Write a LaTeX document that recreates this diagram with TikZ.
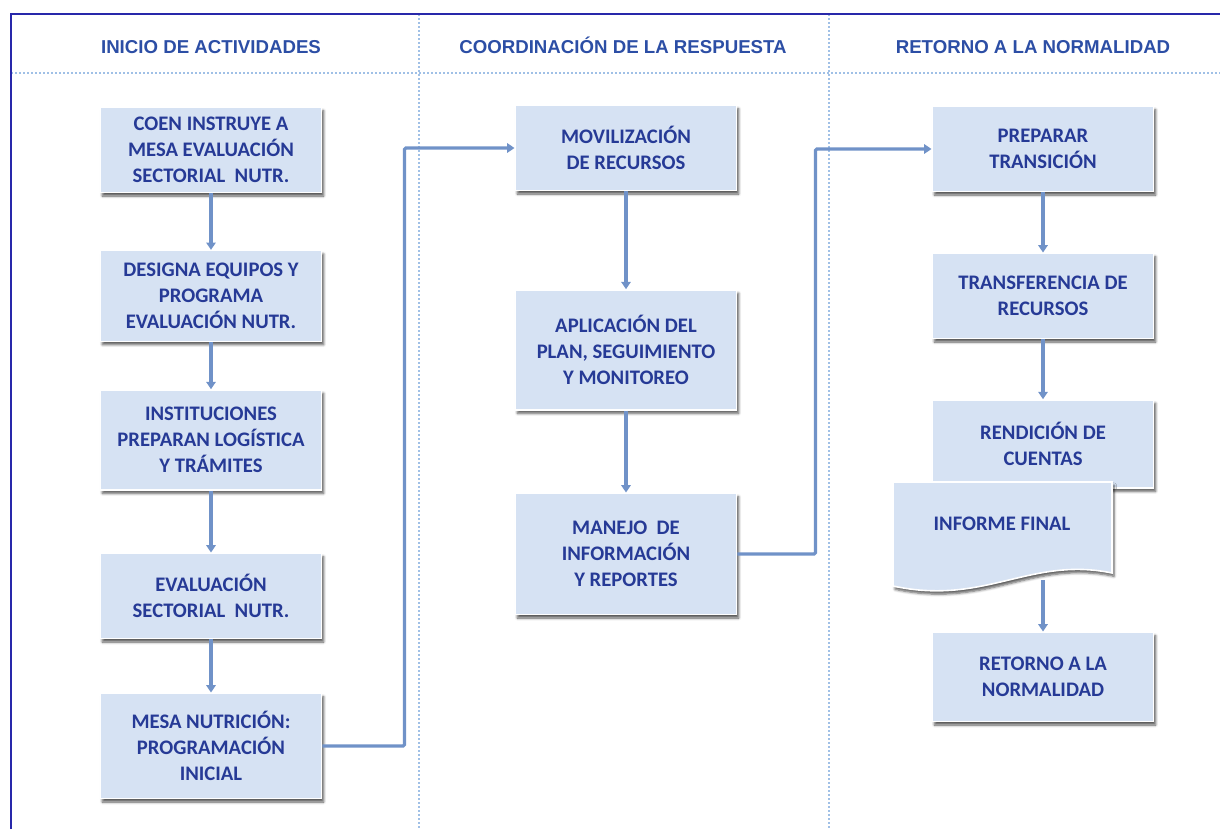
\documentclass[tikz,border=0pt]{standalone}
\usepackage{fontspec}
\setmainfont{Carlito}
\newfontfamily\titulofont{Liberation Sans}
\usetikzlibrary{arrows.meta,shadows.blur}
\definecolor{cajafondo}{RGB}{214,226,243}
\definecolor{textoazul}{RGB}{38,58,150}
\definecolor{tituloazul}{RGB}{44,78,165}
\definecolor{flechaazul}{RGB}{112,146,200}
\definecolor{marcoazul}{RGB}{40,40,170}
\definecolor{puntoazul}{RGB}{160,192,230}
\tikzset{
  paso/.style={fill=cajafondo, draw=white, line width=1.2pt, text=textoazul,
    font=\fontsize{15.5}{19.5}\selectfont\bfseries, align=center,
    minimum width=166pt, inner sep=2pt,
    blur shadow={shadow xshift=1.5pt, shadow yshift=-2.5pt, shadow blur steps=5, shadow opacity=65}},
  titulo/.style={text=tituloazul, font=\titulofont\fontsize{14}{16}\selectfont\bfseries,
    text height=10pt, text depth=0pt},
  flecha/.style={draw=flechaazul, line width=2.4pt, -{Triangle[length=5.5pt,width=7pt]}},
  guia/.style={draw=puntoazul, line width=0.8pt, dash pattern=on 1.5pt off 1.5pt},
}
\begin{document}
\begin{tikzpicture}[x=0.75pt,y=-0.75pt]
\useasboundingbox (0,0) rectangle (1220,829);
% marco y columnas
\draw [guia] (11,73) -- (1220,73) ;
\draw [guia] (419,14) -- (419,829) ;
\draw [guia] (829,14) -- (829,829) ;
\draw [draw=marcoazul, line width=1.3pt] (11,829) -- (11,14) -- (1220,14) ;
\node [titulo] (tinicio) at (211,47) {INICIO DE ACTIVIDADES};
\node [titulo] (tcoord) at (623,47) {COORDINACIÓN DE LA RESPUESTA};
\node [titulo] (tretorno) at (1033,47) {RETORNO A LA NORMALIDAD};
% inicio de actividades
\node [paso, minimum height=64pt] (coen) at (211,150) {COEN INSTRUYE A\\MESA EVALUACIÓN\\SECTORIAL\ \ NUTR.};
\node [paso, minimum height=68pt] (designa) at (211,296) {DESIGNA EQUIPOS Y\\PROGRAMA\\EVALUACIÓN NUTR.};
\node [paso, minimum height=75pt] (inst) at (211,440) {INSTITUCIONES\\PREPARAN LOGÍSTICA\\Y TRÁMITES};
\node [paso, minimum height=64pt] (evalua) at (211,596) {EVALUACIÓN\\SECTORIAL\ \ NUTR.};
\node [paso, minimum height=79pt] (mesa) at (211,746) {MESA NUTRICIÓN:\\PROGRAMACIÓN\\INICIAL};
% coordinacion de la respuesta
\node [paso, minimum height=64pt] (movil) at (626,148) {MOVILIZACIÓN\\DE RECURSOS};
\node [paso, minimum height=90pt] (aplica) at (626,350) {APLICACIÓN DEL\\PLAN, SEGUIMIENTO\\Y MONITOREO};
\node [paso, minimum height=91pt] (manejo) at (626,554) {MANEJO\ \ DE\\INFORMACIÓN\\Y REPORTES};
% retorno a la normalidad
\node [paso, minimum height=64pt] (preparar) at (1043,149) {PREPARAR\\TRANSICIÓN};
\node [paso, minimum height=64pt] (transf) at (1043,296) {TRANSFERENCIA DE\\RECURSOS};
\node [paso, minimum height=66pt] (rendicion) at (1043,444) {RENDICIÓN DE\\CUENTAS};
\draw [fill=cajafondo, draw=white, line width=1.2pt,
  blur shadow={shadow xshift=1.5pt, shadow yshift=-2.5pt, shadow blur steps=5, shadow opacity=65}]
  (893,482) -- (1112,482) -- (1112,573) .. controls (1030,556) and (985,606) .. (893,586) -- cycle ;
\node [text=textoazul, font=\fontsize{15.5}{19.5}\selectfont\bfseries] (informe) at (1002,524) {INFORME FINAL};
\coordinate (informeb) at (1043,580);
\node [paso, minimum height=67pt] (normal) at (1043,677) {RETORNO A LA\\NORMALIDAD};
% conectores
\draw [flecha] (coen) -- (designa) ;
\draw [flecha] (designa) -- (inst) ;
\draw [flecha] (inst) -- (evalua) ;
\draw [flecha] (evalua) -- (mesa) ;
\draw [flecha] (movil) -- (aplica) ;
\draw [flecha] (aplica) -- (manejo) ;
\draw [flecha] (preparar) -- (transf) ;
\draw [flecha] (transf) -- (rendicion) ;
\draw [flecha] (informeb) -- (normal) ;
\draw [flecha, rounded corners=1pt] (mesa.east) -- ++(82,0) |- (movil.west) ;
\draw [flecha, rounded corners=1pt] (manejo.east) -- ++(78,0) |- (preparar.west) ;
\end{tikzpicture}
\end{document}
